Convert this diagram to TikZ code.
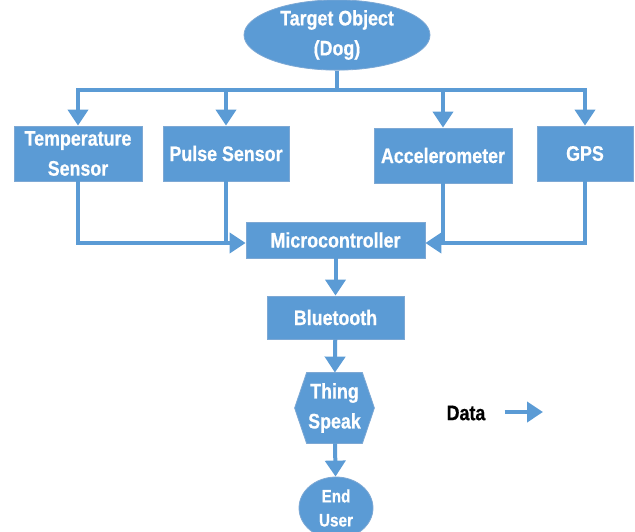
\documentclass[tikz,border=0pt]{standalone}
\usepackage{fontspec}
\newfontfamily\boxfont{Liberation Sans}[FakeStretch=0.85, BoldFeatures={FakeBold=0.6}]
\usetikzlibrary{arrows.meta,shapes.geometric,backgrounds}
\definecolor{flowblue}{RGB}{91,155,213}
\definecolor{flowedge}{RGB}{125,168,212}
\tikzset{
  box/.style={rectangle, fill=flowblue, draw=flowedge, line width=0.8pt,
    text=white, align=center, inner sep=0pt,
    font={\boxfont\bfseries\fontsize{21}{30}\selectfont}},
  oval/.style={box, ellipse},
  link/.style={flowblue, line width=4pt},
  arrow/.style={link, -{Triangle[length=16pt,width=20pt]}},
}

\begin{document}
\begin{tikzpicture}[x=1pt,y=1pt]
\useasboundingbox (0,0) rectangle (635,-531);

% source
\node[oval, minimum width=186, minimum height=64] (target) at (337,-35) {Target Object\\(Dog)};

% sensors
\node[box, minimum width=128, minimum height=55] (temp) at (78,-153.5) {Temperature\\Sensor};
\node[box, minimum width=126, minimum height=55] (pulse) at (226,-153.5) {Pulse Sensor};
\node[box, minimum width=138, minimum height=55] (accel) at (443,-155.5) {Accelerometer};
\node[box, minimum width=96, minimum height=55] (gps) at (585,-153.5) {GPS};

% processing chain
\node[box, minimum width=179, minimum height=36] (micro) at (335.5,-240) {Microcontroller};
\node[box, minimum width=137, minimum height=43] (bt) at (335.5,-317.5) {Bluetooth};
\node[box, draw=none, fill=none, minimum width=55, minimum height=70] (thing) at (334.5,-408) {Thing\\Speak};
\begin{scope}[on background layer]
  \filldraw[fill=flowblue, draw=flowedge, line width=0.8pt]
    ([xshift=-12pt]thing.west) -- (thing.north west) -- (thing.north east)
    -- ([xshift=12pt]thing.east) -- (thing.south east) -- (thing.south west) -- cycle;
\end{scope}
\node[oval, minimum width=74, minimum height=62,
      font={\boxfont\bfseries\fontsize{18}{24}\selectfont}] (user) at (336,-508) {End\\User};

% legend
\node[font={\boxfont\bfseries\fontsize{21}{22}\selectfont}, inner sep=0pt] (data) at (466,-413) {Data};
\coordinate (dataend) at (543,-412);

% distribution bus
\coordinate (bus) at (337,-90);
\draw[link] (target) -- (bus);
\draw[link] ([xshift=-2pt]temp.north |- bus) -- ([xshift=2pt]gps.north |- bus);
\foreach \s in {temp,pulse,accel,gps}
  \draw[arrow] (\s.north |- bus) -- (\s.north);

% sensors into the controller
\coordinate (inleft) at ([yshift=-3pt]micro.west);
\coordinate (inright) at ([yshift=-3pt]micro.east);
\draw[arrow] (temp.south) |- (inleft);
\draw[link] (pulse.south) -- (pulse.south |- inleft);
\draw[arrow] (gps.south) |- (inright);
\draw[link] (accel.south) -- (accel.south |- inright);

% down the chain
\draw[arrow] (micro) -- (bt);
\draw[arrow] (bt) -- (thing);
\draw[arrow] (thing) -- (user);

\draw[arrow] ([xshift=19pt]data.east |- dataend) -- (dataend);
\end{tikzpicture}
\end{document}
